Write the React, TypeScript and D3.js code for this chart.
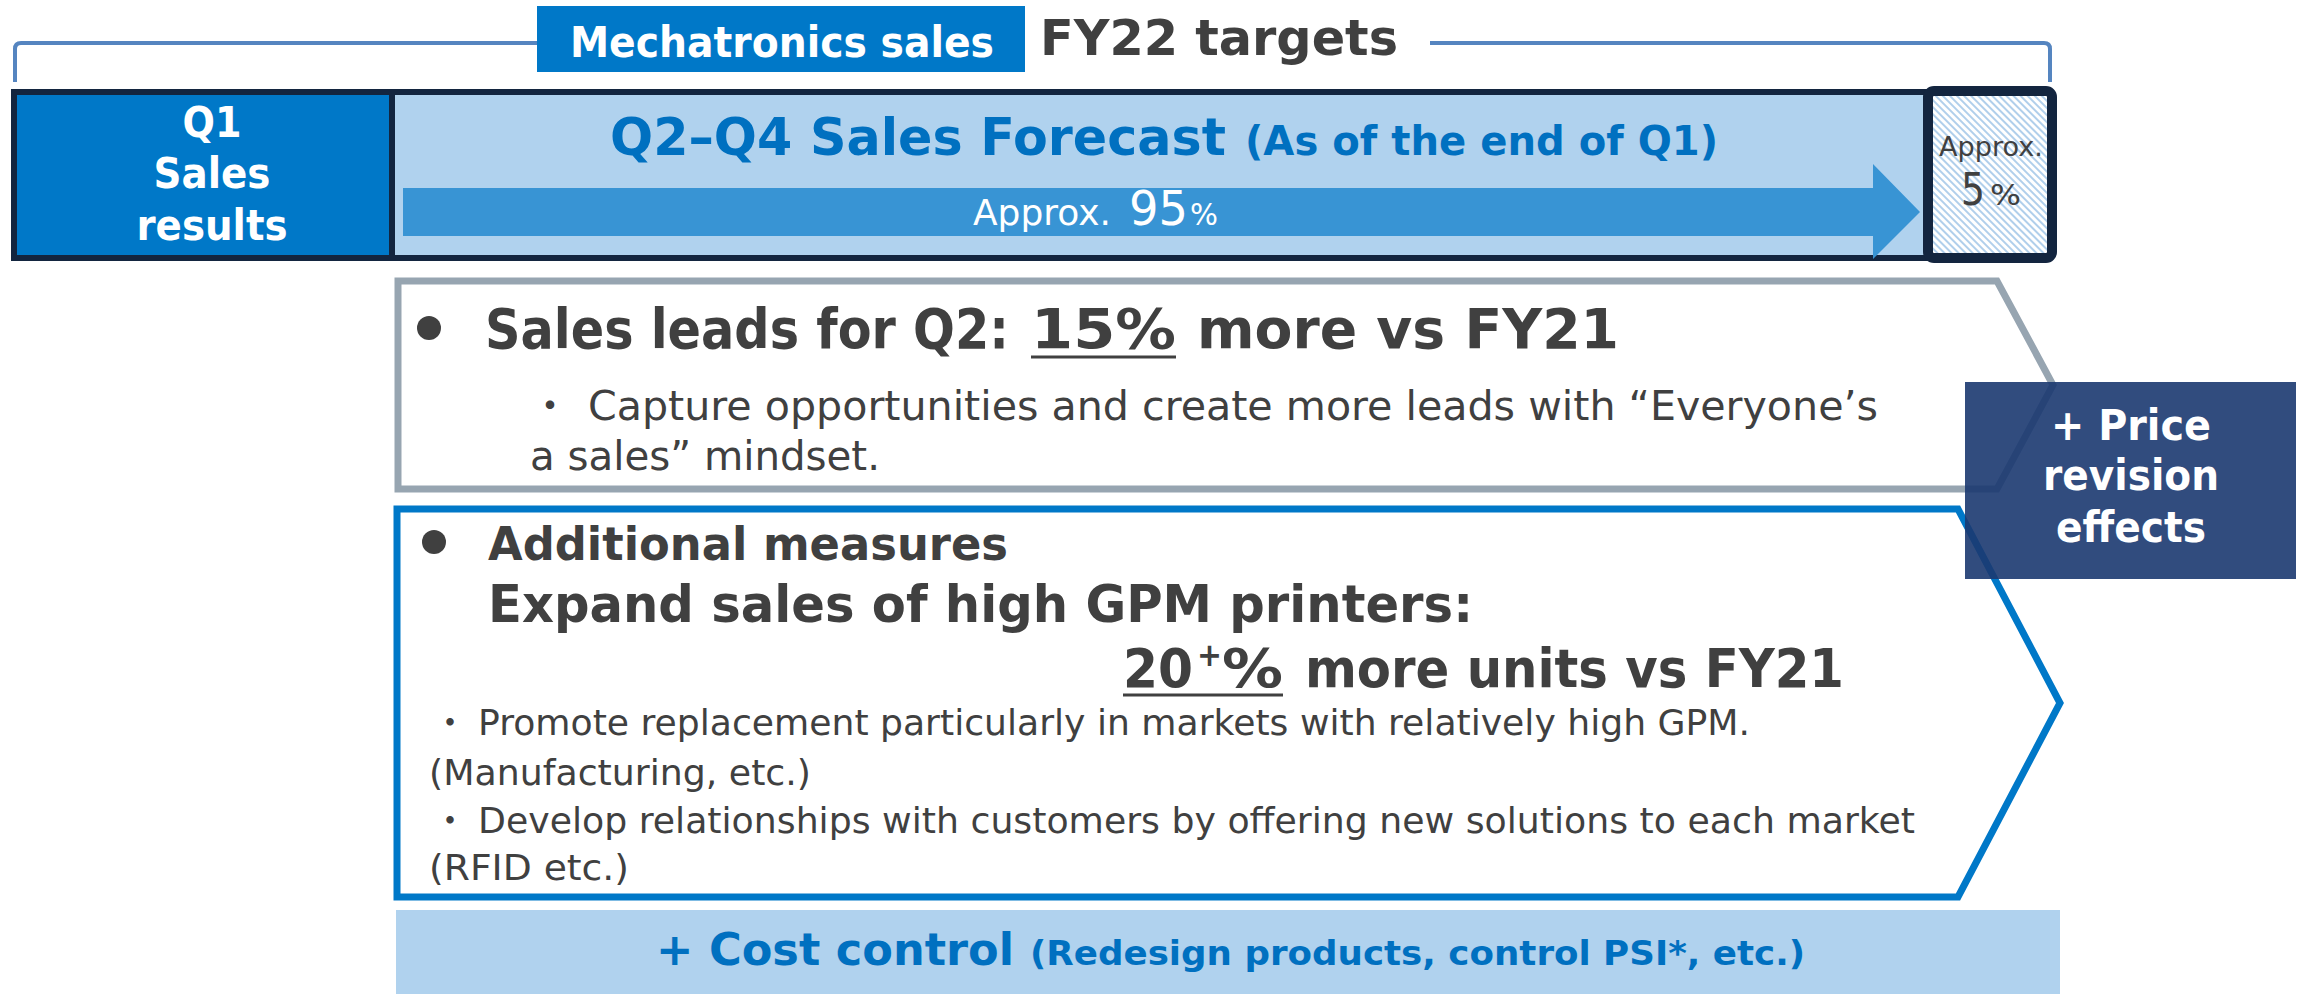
import React from 'react';
import * as d3 from 'd3';

// values shown on the slide
const headerLabels = ['Mechatronics sales', 'FY22 targets'];
const q1Lines = ['Q1', 'Sales', 'results'];
const forecastTitle = ['Q2–Q4 Sales Forecast', '(As of the end of Q1)'];
const forecastShares = [95, 5]; // Q2–Q4 forecast, remaining gap (approx. %)
const leadsGrowth = [15]; // % more sales leads vs FY21
const unitsGrowth = [20]; // 20+% more units vs FY21
const priceLines = ['+ Price', 'revision', 'effects'];
const leadNotes = ['Capture opportunities and create more leads with “Everyone’s', 'a sales” mindset.'];
const measureNotes = [
  'Promote replacement particularly in markets with relatively high GPM.',
  '(Manufacturing, etc.)',
  'Develop relationships with customers by offering new solutions to each market',
  '(RFID etc.)',
];
const costLabels = ['+ Cost control', '(Redesign products, control PSI*, etc.)'];

const FONT = "'DejaVu Sans', Verdana, sans-serif";
const CJK = "'Noto Sans CJK JP', sans-serif";
const DARK = '#404040';
const BLUE = '#0070C0';
const NAVY = '#13253F';
const LIGHT = '#B0D2EE';

const T = ({ x, y, w, size, bold = false, fill = DARK, anchor = 'start', children }: any) => (
  <text
    x={x}
    y={y}
    fontSize={size}
    fontWeight={bold ? 'bold' : 'normal'}
    fill={fill}
    textAnchor={anchor}
    textLength={w}
    lengthAdjust="spacingAndGlyphs"
    fontFamily={FONT}
  >
    {children}
  </text>
);

const Dot = ({ x, y, size }: any) => (
  <text x={x} y={y} fontSize={size} fill={DARK} textAnchor="middle" fontFamily={CJK}>・</text>
);

const line = d3.line();

export default function App() {
  const W = 2303;
  const H = 994;

  // pentagon outlines
  const grayShape = line([[398, 281], [1997, 281], [2053, 385], [1997, 489], [398, 489]]) + 'Z';
  const blueShape = line([[397, 509], [1958, 509], [2060, 703], [1958, 897], [397, 897]]) + 'Z';
  const arrow = line([[403, 188], [1873, 188], [1873, 164], [1920, 212], [1873, 259], [1873, 236], [403, 236]]) + 'Z';

  // bracket
  const bracketL = 'M15,82 V49 Q15,43 21,43 H540';
  const bracketR = 'M1430,43 H2044 Q2050,43 2050,49 V82';

  return (
    <svg width={W} height={H} style={{ position: 'absolute', left: 0, top: 0, background: '#fff' }}>
      <defs>
        <pattern id="hatch" width={5} height={5} patternUnits="userSpaceOnUse" patternTransform="rotate(-45)">
          <rect width={5} height={5} fill="#fff" />
          <line x1={1} y1={0} x2={1} y2={5} stroke="#9DC3E6" strokeWidth={1.6} />
        </pattern>
      </defs>

      {/* bracket + header */}
      <path d={bracketL} fill="none" stroke="#5585C0" strokeWidth={4} />
      <path d={bracketR} fill="none" stroke="#5585C0" strokeWidth={4} />
      <rect x={537} y={6} width={488} height={66} fill="#0078C8" />
      <T x={570} y={57} w={424} size={42} bold fill="#fff">{headerLabels[0]}</T>
      <T x={1040} y={55} w={358} size={50} bold>{headerLabels[1]}</T>

      {/* sales split bar */}
      <rect x={14} y={92} width={376} height={166} fill="#0078C8" />
      <rect x={390} y={92} width={1540} height={166} fill={LIGHT} />
      <rect x={14} y={92} width={1916} height={166} fill="none" stroke={NAVY} strokeWidth={6} />
      <line x1={392} x2={392} y1={92} y2={258} stroke={NAVY} strokeWidth={6} />
      {q1Lines.map((s, i) => (
        <T key={s} x={212} y={[137, 188, 240][i]} w={[59, 117, 151][i]} size={42} bold fill="#fff" anchor="middle">{s}</T>
      ))}
      <T x={610} y={155} w={616} size={52} bold fill={BLUE}>{forecastTitle[0]}</T>
      <T x={1245} y={155} w={473} size={40} bold fill={BLUE}>{forecastTitle[1]}</T>
      <path d={arrow} fill="#3894D4" />
      <T x={973} y={225} w={138} size={36} fill="#fff">Approx.</T>
      <T x={1129} y={225} w={59} size={48} fill="#fff">{forecastShares[0]}</T>
      <T x={1190} y={225} w={28} size={30} fill="#fff">%</T>

      <rect x={1928} y={91} width={124} height={167} rx={6} fill="url(#hatch)" stroke={NAVY} strokeWidth={10} />
      <T x={1939} y={156} w={104} size={27}>Approx.</T>
      <T x={1961} y={205} w={24} size={44}>{forecastShares[1]}</T>
      <T x={1990} y={205} w={31} size={29}>%</T>

      {/* sales leads */}
      <path d={grayShape} fill="#fff" stroke="#97A5B1" strokeWidth={7} />
      <circle cx={429} cy={328} r={12} fill={DARK} />
      <T x={485} y={348} w={524} size={55} bold>Sales leads for Q2:</T>
      <T x={1031} y={348} w={145} size={55} bold>{leadsGrowth[0]}%</T>
      <line x1={1031} x2={1176} y1={357} y2={357} stroke={DARK} strokeWidth={3} />
      <T x={1197} y={348} w={422} size={55} bold>more vs FY21</T>
      <Dot x={550} y={420} size={40} />
      <T x={588} y={420} w={1290} size={40}>{leadNotes[0]}</T>
      <T x={530} y={470} w={350} size={40}>{leadNotes[1]}</T>

      {/* additional measures */}
      <path d={blueShape} fill="#fff" stroke="#0078C8" strokeWidth={7} />
      <circle cx={434} cy={542} r={12} fill={DARK} />
      <T x={488} y={560} w={520} size={47} bold>Additional measures</T>
      <T x={488} y={622} w={985} size={52} bold>Expand sales of high GPM printers:</T>
      <T x={1123} y={687} w={70} size={54} bold>{unitsGrowth[0]}</T>
      <T x={1197} y={666} w={25} size={32} bold>+</T>
      <T x={1222} y={687} w={61} size={54} bold>%</T>
      <line x1={1123} x2={1283} y1={695} y2={695} stroke={DARK} strokeWidth={3} />
      <T x={1305} y={687} w={539} size={54} bold>more units vs FY21</T>
      <Dot x={450} y={735} size={35} />
      <T x={478} y={735} w={1272} size={35}>{measureNotes[0]}</T>
      <T x={429} y={785} w={382} size={35}>{measureNotes[1]}</T>
      <Dot x={450} y={833} size={35} />
      <T x={478} y={833} w={1437} size={35}>{measureNotes[2]}</T>
      <T x={429} y={880} w={200} size={35}>{measureNotes[3]}</T>

      {/* price revision */}
      <rect x={1965} y={382} width={331} height={197} fill="#1B3970" fillOpacity={0.9} />
      {priceLines.map((s, i) => (
        <T key={s} x={2131} y={[440, 490, 542][i]} w={[160, 176, 150][i]} size={42} bold fill="#fff" anchor="middle">{s}</T>
      ))}

      {/* cost control */}
      <rect x={396} y={910} width={1664} height={84} fill={LIGHT} />
      <T x={656} y={965} w={358} size={44} bold fill={BLUE}>{costLabels[0]}</T>
      <T x={1030} y={965} w={775} size={33} bold fill={BLUE}>{costLabels[1]}</T>
    </svg>
  );
}
